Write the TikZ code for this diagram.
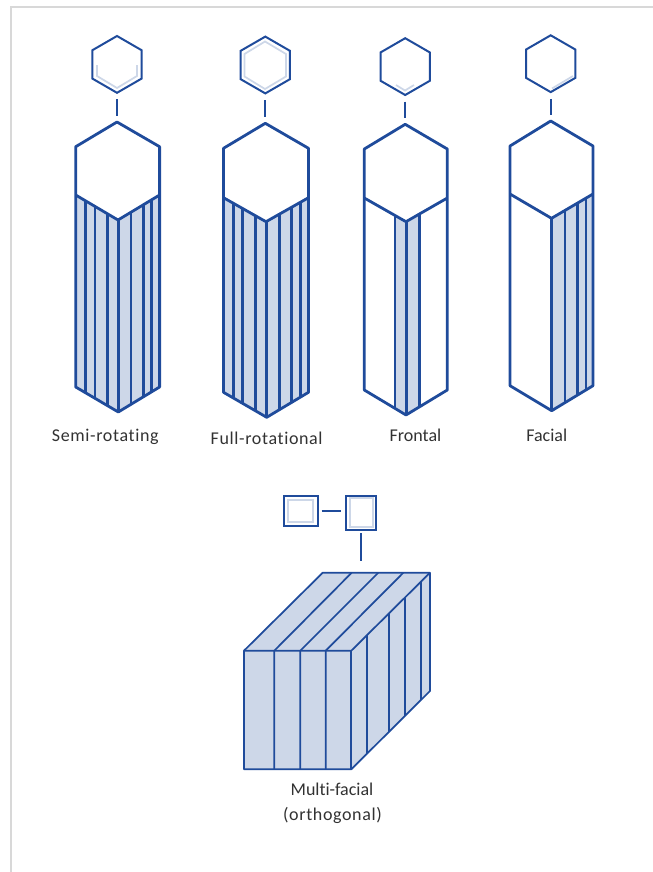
\documentclass[tikz,border=0pt]{standalone}
\usepackage{fontspec}
\setmainfont[Ligatures=NoCommon]{Carlito}
\newfontfamily\spacedfont[Ligatures=NoCommon, LetterSpace=3.5]{Carlito}
\usepackage{tikz}
\usetikzlibrary{shapes.geometric}
\definecolor{prismblue}{RGB}{31,75,155}
\definecolor{prismshade}{RGB}{205,215,232}
\definecolor{framegray}{RGB}{216,216,216}
\definecolor{labelgray}{RGB}{50,50,50}
\tikzset{
  smallhex/.style={draw=prismblue, line width=1.5pt, regular polygon, regular polygon sides=6, shape border rotate=30, minimum size=42.6pt, inner sep=0pt, outer sep=0pt, fill=none},
  smallbox/.style={draw=prismblue, line width=1.4pt, inner sep=0pt, outer sep=0pt},
  prismline/.style={draw=prismblue, line width=2.1pt, line join=round},
  stripeline/.style={draw=prismblue, line width=2pt},
  cubeline/.style={draw=prismblue, line width=1.3pt, line join=round},
  linkline/.style={draw=prismblue, line width=1.5pt},
  lightline/.style={draw=prismshade, line width=1.3pt},
  relabel/.style={font=\fontsize{13.5}{15}\selectfont, text=labelgray, anchor=base, inner sep=0pt}
}
\begin{document}
\begin{tikzpicture}[x=0.75pt, y=-0.75pt]
  \useasboundingbox (0,0) rectangle (653,872);
  \draw[framegray, line width=1.5pt] (11,872) -- (11,6.5) -- (653,6.5);

  \draw[lightline] (97,65) -- (97,76) -- (117,88) -- (137,76) -- (137,65);
  \draw[lightline] (265,41.5) -- (286,54) -- (286,76.5) -- (265,89) -- (244.5,76.5) -- (244.5,54) -- cycle;
  \draw[lightline] (396,85) -- (405,90.5) -- (414,85);
  \draw[lightline] (552,88.5) -- (573,76);
  \node[smallhex] (semihex) at (117,64.4) {};
  \node[smallhex] (fullhex) at (265.3,65) {};
  \node[smallhex] (fronthex) at (405.2,66.6) {};
  \node[smallhex] (facehex) at (550.7,63.7) {};

  \coordinate (semitop) at (117,122);
  \coordinate (fulltop) at (265.3,123.3);
  \coordinate (fronttop) at (405.2,124.3);
  \coordinate (facetop) at (550.7,121);
  \foreach \hexname/\topname in {semihex/semitop, fullhex/fulltop, fronthex/fronttop, facehex/facetop}
    \draw[linkline, shorten <=5pt, shorten >=4.7pt] (\hexname) -- (\topname);

  \begin{scope}
    \clip (75.7,195) -- (118,220) -- (159.6,195) -- (159.6,387) -- (118.3,412) -- (75.7,387) -- cycle;
    \fill[prismshade] (75.7,190) rectangle (159.6,415);
    \foreach \x in {85.7,95,107.7,118.3,131,143.3,151.7}
      \draw[stripeline] (\x,190) -- (\x,415);
  \end{scope}
  \draw[prismline] (semitop) -- (159.6,146.7) -- (159.6,387) -- (118.3,412) -- (75.7,387) -- (75.7,146.7) -- cycle;
  \draw[prismline] (75.7,195) -- (118,220) -- (159.6,195);

  \begin{scope}
    \clip (223.5,197.7) -- (266,221.7) -- (308.5,197.7) -- (308.5,392.3) -- (266.7,417.3) -- (223.5,392.3) -- cycle;
    \fill[prismshade] (223.5,190) rectangle (308.5,420);
    \foreach \x in {233.3,242.7,255.3,266.7,279.3,291.7,300.7}
      \draw[stripeline] (\x,190) -- (\x,420);
  \end{scope}
  \draw[prismline] (fulltop) -- (308.5,148.3) -- (308.5,392.3) -- (266.7,417.3) -- (223.5,392.3) -- (223.5,148.3) -- cycle;
  \draw[prismline] (223.5,197.7) -- (266,221.7) -- (308.5,197.7);

  \begin{scope}
    \clip (364.3,198) -- (406,221.7) -- (447.3,198) -- (447.3,390) -- (406,415) -- (364.3,390) -- cycle;
    \fill[prismshade] (395,190) rectangle (419.3,420);
    \foreach \x in {395,406.3,419.3}
      \draw[stripeline] (\x,190) -- (\x,420);
  \end{scope}
  \draw[prismline] (fronttop) -- (447.3,149) -- (447.3,390) -- (406,415) -- (364.3,390) -- (364.3,149) -- cycle;
  \draw[prismline] (364.3,198) -- (406,221.7) -- (447.3,198);

  \begin{scope}
    \clip (510,194) -- (551.5,218.3) -- (593,194) -- (593,385.7) -- (551.7,410.7) -- (510,385.7) -- cycle;
    \fill[prismshade] (551.7,190) rectangle (593,415);
    \foreach \x in {551.7,565,577.3,586}
      \draw[stripeline] (\x,190) -- (\x,415);
  \end{scope}
  \draw[prismline] (facetop) -- (593,146) -- (593,385.7) -- (551.7,410.7) -- (510,385.7) -- (510,146) -- cycle;
  \draw[prismline] (510,194) -- (551.5,218.3) -- (593,194);

  \node[relabel] (semilabel) at (105.3,441.7) {\spacedfont Semi-rotating};
  \node[relabel] (fulllabel) at (266.7,444.5) {\spacedfont Full-rotational};
  \node[relabel] (frontlabel) at (415.5,441.7) {Frontal};
  \node[relabel] (facelabel) at (546.7,441) {Facial};

  \draw[lightline] (287.7,500) rectangle (313.3,521.7);
  \draw[lightline] (350,498.3) rectangle (373.3,526.7);
  \node[smallbox, minimum width=25.5pt, minimum height=22.5pt] (leftbox) at (301.3,510.7) {};
  \node[smallbox, minimum width=22.5pt, minimum height=25.5pt] (rightbox) at (361.2,512.7) {};
  \coordinate (cubelink) at (361.2,561);
  \draw[linkline, shorten <=2.5pt, shorten >=4pt] (leftbox.east) -- (leftbox.east -| rightbox.west);
  \draw[linkline, shorten <=2.7pt] (rightbox.south) -- (cubelink);

  \fill[prismshade] (244,650.7) -- (322.7,572.7) -- (430,572.7) -- (430,691) -- (351.3,769.3) -- (244,769.3) -- cycle;
  \foreach \x/\xtop in {274.3/351.7, 300.3/378.3, 325.7/403.3}
    \draw[cubeline] (\x,769.3) -- (\x,650.7) -- (\xtop,572.7);
  \foreach \x/\ytop/\ybot in {367/635.1/753.7, 389/613.3/731.9, 405.3/597.2/715.8, 421/581.6/700.2}
    \draw[cubeline] (\x,\ytop) -- (\x,\ybot);
  \draw[cubeline] (244,650.7) -- (322.7,572.7) -- (430,572.7) -- (430,691) -- (351.3,769.3) -- (244,769.3) -- cycle;
  \draw[cubeline] (244,650.7) -- (351.3,650.7) -- (430,572.7);
  \draw[cubeline] (351.3,650.7) -- (351.3,769.3);

  \node[relabel] (multilabel) at (332,795.7) {Multi-facial};
  \node[relabel] (ortholabel) at (332.5,820) {\spacedfont (orthogonal)};
\end{tikzpicture}
\end{document}
